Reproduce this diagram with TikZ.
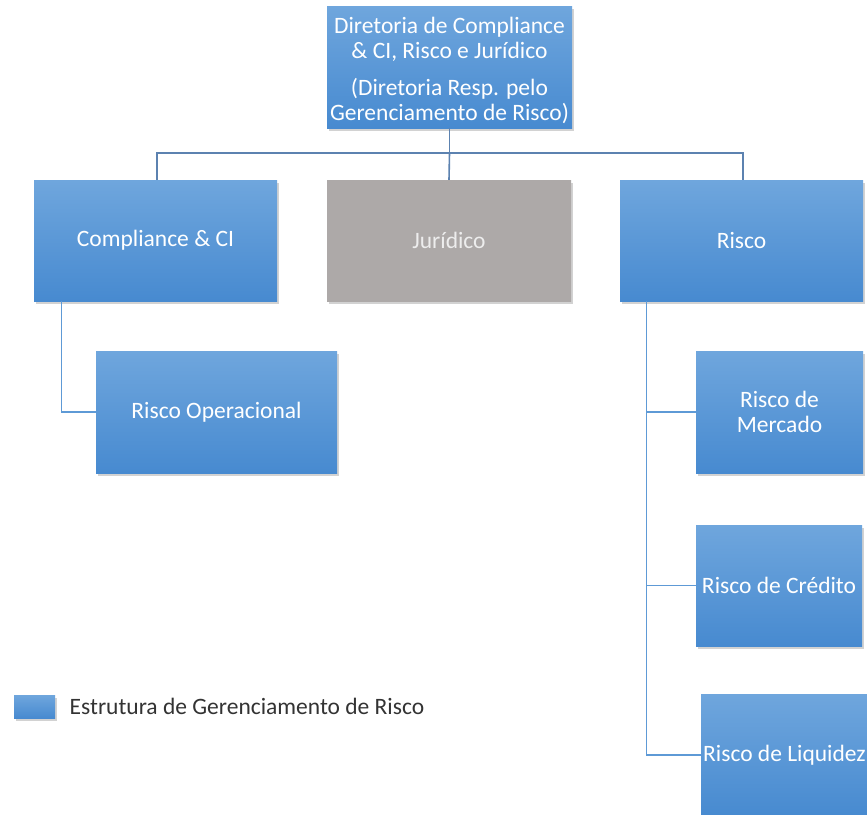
\documentclass[tikz,border=0pt]{standalone}
\usepackage{fontspec}
\setmainfont{Carlito}
\usetikzlibrary{shadows}

\definecolor{azulcima}{HTML}{6FA6DD}
\definecolor{azulbaixo}{HTML}{478AD0}
\definecolor{cinza}{HTML}{ADA9A8}
\definecolor{linhaescura}{HTML}{5C82B0}
\definecolor{linhaclara}{HTML}{5E9AD6}

\tikzset{
    caixa/.style={rectangle, inner sep=0pt, align=center, text=white,
        top color=azulcima, bottom color=azulbaixo,
        font=\fontsize{23.5}{25}\selectfont,
        drop shadow={opacity=0.35, shadow xshift=1.5pt, shadow yshift=-2.5pt}},
    caixacinza/.style={caixa, top color=cinza, bottom color=cinza, text=white!93!black},
    linha/.style={draw=linhaescura, line width=1.6pt},
    linhafina/.style={draw=linhaclara, line width=1.3pt}
}

\begin{document}
\begin{tikzpicture}[x=1pt, y=-1pt]

    \clip (0,0) rectangle (867,814);
    \fill[white] (0,0) rectangle (867,814);

    % Diretoria
    \node[caixa, minimum width=245pt, minimum height=122pt] (dir) at (449.5, 67)
        {\\[-2pt]Diretoria de Compliance\\ \& CI, Risco e Jurídico\\[12pt]
         (Diretoria Resp. pelo\\ Gerenciamento de Risco)};

    % primeiro nivel
    \node[caixa, minimum width=243pt, minimum height=121pt] (compl) at (155.5, 240.5) {Compliance \& CI};
    \node[caixacinza, minimum width=244pt, minimum height=121pt] (jur) at (449, 240.5) {Jurídico};
    \node[caixa, minimum width=243pt, minimum height=121pt] (risco) at (741.5, 240.5) {Risco};

    % segundo nivel
    \node[caixa, minimum width=241pt, minimum height=122pt] (oper) at (216.5, 412) {Risco Operacional};
    \node[caixa, minimum width=167pt, minimum height=122pt] (merc) at (779.5, 412) {Risco de\\ Mercado};
    \node[caixa, minimum width=166pt, minimum height=121pt] (cred) at (779, 585.5) {Risco de Crédito};
    \node[caixa, minimum width=167pt, minimum height=122pt] (liq) at (784.5, 755) {Risco de Liquidez};

    % legenda
    \node[caixa, minimum width=41pt, minimum height=23pt] (leg) at (34.5, 706.5) {};
    \node[anchor=west, text=black!80, font=\fontsize{23.5}{25}\selectfont] (legtxt)
        at ([xshift=11pt]leg.east) {Estrutura de Gerenciamento de Risco};

    % ligacoes
    \coordinate (barra) at ([yshift=-25pt]dir.south);
    \draw[linha] (dir.south) -- (barra);
    \draw[linha] (barra) -| ([xshift=1.5pt]compl.north);
    \draw[linha] (barra) -| ([xshift=1.5pt]risco.north);
    \draw[linha] (barra) -- (jur.north);

    \draw[linhafina] ([xshift=28pt]compl.south west) |- (oper.west);
    \draw[linhafina] ([xshift=27pt]risco.south west) |- (merc.west);
    \draw[linhafina] ([xshift=27pt]risco.south west) |- (cred.west);
    \draw[linhafina] ([xshift=27pt]risco.south west) |- (liq.west);

\end{tikzpicture}
\end{document}
